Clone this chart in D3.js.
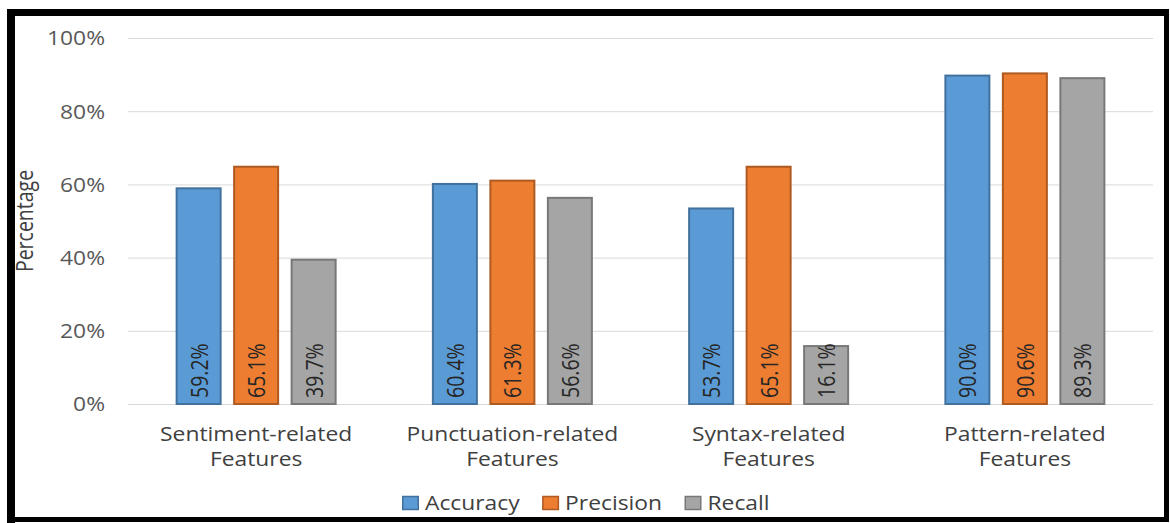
<!DOCTYPE html>
<html>
<head>
<meta charset="utf-8">
<script src="https://cdn.jsdelivr.net/npm/d3@7/dist/d3.min.js"></script>
<style>
  html, body { margin: 0; padding: 0; background: #fff; }
  svg { display: block; }
  text { font-family: "Open Sans", "Noto Sans", sans-serif; }
</style>
</head>
<body>
<svg id="chart" width="1170" height="523"></svg>
<script>
// Feature groups along the x axis (two-line labels)
const categories = [
  ["Sentiment-related", "Features"],
  ["Punctuation-related", "Features"],
  ["Syntax-related", "Features"],
  ["Pattern-related", "Features"]
];
const seriesNames = ["Accuracy", "Precision", "Recall"];
// Scores in percent, one array per metric
const accuracy  = [59.2, 60.4, 53.7, 90.0];
const precision = [65.1, 61.3, 65.1, 90.6];
const recall    = [39.7, 56.6, 16.1, 89.3];
const yTicks = [0, 20, 40, 60, 80, 100];

const fills   = ["#5B9BD5", "#ED7D31", "#A5A5A5"];
const strokes = ["#41719C", "#AE5A21", "#787878"];
const textColor = "#595959";
const FONT = 19.5;
const SX = 1.17;   // text is set slightly wide

const svg = d3.select("#chart");

// plot area
const plotLeft = 128, plotRight = 1153, plotTop = 38, plotBottom = 404;

const values = [accuracy, precision, recall];
const catKeys = categories.map((c, i) => i);

const x0 = d3.scaleBand().domain(catKeys).range([plotLeft, plotRight]).padding(0);
const groupWidth = 161;
const x1 = d3.scaleBand().domain(seriesNames)
  .range([-groupWidth / 2, groupWidth / 2]).paddingInner(0.2).paddingOuter(0);
const y = d3.scaleLinear().domain([0, 100]).range([plotBottom, plotTop]);

// gridlines
svg.append("g")
  .selectAll("line")
  .data(yTicks)
  .join("line")
  .attr("x1", plotLeft).attr("x2", plotRight)
  .attr("y1", d => y(d) + 0.5).attr("y2", d => y(d) + 0.5)
  .attr("stroke", "#D9D9D9").attr("stroke-width", 1);

// y axis labels
const yAxis = d3.axisLeft(y).tickValues(yTicks).tickFormat(d => d + "%").tickSize(0).tickPadding(0);
const yg = svg.append("g").attr("transform", "translate(105,0)").call(yAxis);
yg.select(".domain").remove();
yg.selectAll("text")
  .attr("font-size", FONT).attr("fill", textColor)
  .attr("font-family", "'Open Sans', sans-serif")
  .attr("transform", `scale(${SX},1)`)
  .attr("dy", "0.35em");

// y axis title
svg.append("text")
  .attr("transform", `translate(33,${(plotTop + plotBottom) / 2}) scale(${SX},1) rotate(-90)`)
  .attr("text-anchor", "middle")
  .attr("font-size", FONT)
  .attr("fill", "#404040")
  .text("Percentage");

// bars
const groups = svg.append("g")
  .selectAll("g")
  .data(catKeys)
  .join("g")
  .attr("transform", i => `translate(${x0(i) + x0.bandwidth() / 2},0)`);

groups.selectAll("rect")
  .data(i => seriesNames.map((s, k) => ({ s, k, v: values[k][i] })))
  .join("rect")
  .attr("x", d => x1(d.s) + 1)
  .attr("width", x1.bandwidth() - 2)
  .attr("y", d => y(d.v) + 1)
  .attr("height", d => y(0) - y(d.v) - 1)
  .attr("fill", d => fills[d.k])
  .attr("stroke", d => strokes[d.k])
  .attr("stroke-width", 2);

// value labels, rotated, reading upward from the base
groups.selectAll("text.val")
  .data(i => seriesNames.map((s, k) => ({ s, k, v: values[k][i] })))
  .join("text")
  .attr("class", "val")
  .attr("transform", d => `translate(${x1(d.s) + x1.bandwidth() / 2 + 1},${y(0) - 6}) scale(${SX},1) rotate(-90)`)
  .attr("dy", "0.35em")
  .attr("font-size", FONT)
  .attr("fill", "#262626")
  .text(d => d.v.toFixed(1) + "%");

// category labels
const xAxis = svg.append("g");
categories.forEach((lines, i) => {
  const cx = x0(i) + x0.bandwidth() / 2;
  const t = xAxis.append("text")
    .attr("transform", `translate(${cx},441) scale(${SX},1)`)
    .attr("text-anchor", "middle")
    .attr("font-size", FONT)
    .attr("fill", "#404040");
  lines.forEach((ln, j) => {
    t.append("tspan").attr("x", 0).attr("dy", j === 0 ? 0 : 25).text(ln);
  });
});

// legend
const legend = svg.append("g").attr("transform", "translate(402,503)");
let lx = 0;
seriesNames.forEach((s, k) => {
  const item = legend.append("g").attr("transform", `translate(${lx},0)`);
  item.append("rect")
    .attr("x", 0.75).attr("y", -6.5).attr("width", 15.5).attr("height", 13)
    .attr("fill", fills[k]).attr("stroke", strokes[k]).attr("stroke-width", 1.5);
  const t = item.append("text")
    .attr("transform", `translate(23,0) scale(${SX},1)`)
    .attr("dy", "0.35em")
    .attr("font-size", FONT).attr("fill", "#404040")
    .text(s);
  lx += 23 + t.node().getComputedTextLength() * SX + 22.5;
});

// frame around the chart
const frame = svg.append("g").attr("fill", "#000");
frame.append("rect").attr("x", 7).attr("y", 9).attr("width", 1162).attr("height", 7);
frame.append("rect").attr("x", 7).attr("y", 9).attr("width", 8).attr("height", 514);
frame.append("rect").attr("x", 1164).attr("y", 9).attr("width", 5).attr("height", 509);
frame.append("rect").attr("x", 7).attr("y", 517).attr("width", 1162).attr("height", 5);
</script>
</body>
</html>
